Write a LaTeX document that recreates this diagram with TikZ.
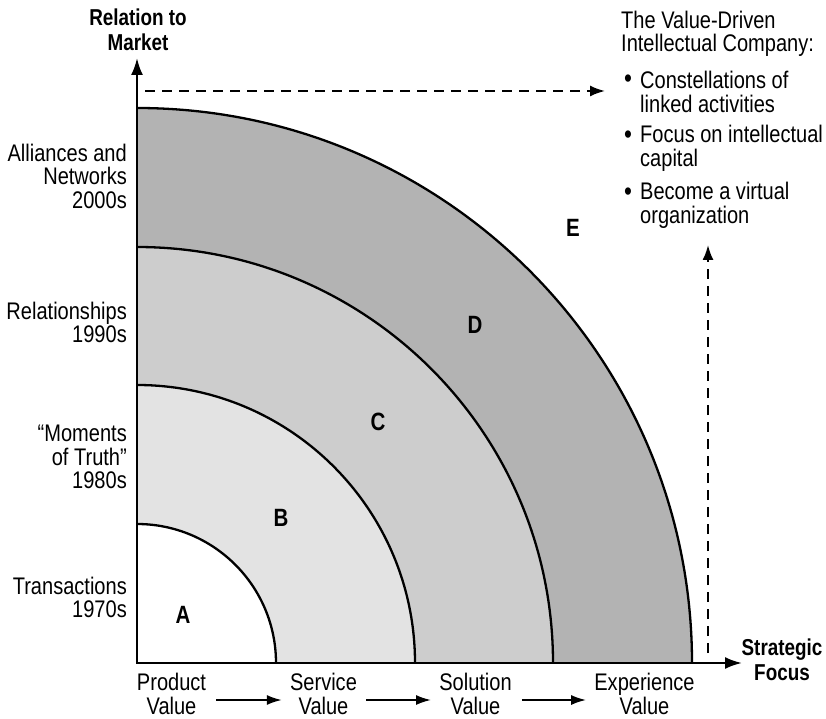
\documentclass[tikz,border=0pt]{standalone}
\usepackage{fontspec}
\setmainfont{Liberation Sans}[FakeStretch=0.835,BoldFeatures={FakeStretch=0.82}]
\usetikzlibrary{arrows.meta}
\definecolor{ringB}{HTML}{E3E3E3}
\definecolor{ringC}{HTML}{CDCDCD}
\definecolor{ringD}{HTML}{B3B3B3}
\begin{document}
\begin{tikzpicture}[x=1pt,y=1pt,
  lbl/.style={font=\fontsize{24}{23.5}\selectfont, inner sep=0pt, align=center},
  axlbl/.style={font=\fontsize{23}{24.5}\selectfont\bfseries, inner sep=0pt, align=center},
  letter/.style={font=\fontsize{25}{25}\selectfont\bfseries, inner sep=0pt},
  bullet/.style={font=\fontsize{27}{27}\selectfont, inner sep=0pt},
  ring/.style={line width=2.3pt},
  axis/.style={line width=2.4pt, {Latex[length=17pt,width=12pt]}-{Latex[length=17pt,width=12pt]}},
  flow/.style={line width=2pt, -{Latex[length=15pt,width=10pt]}},
  dasharrow/.style={line width=2pt, dash pattern=on 10pt off 7pt, -{Latex[length=15pt,width=11pt]}}]
\useasboundingbox (0,0) rectangle (826,718);
\coordinate (O) at (137,55);

% concentric quarter rings, outermost first
\fill[ringD] (O) -- (692,55) arc[start angle=0,end angle=90,radius=555] -- cycle;
\fill[ringC] (O) -- (553,55) arc[start angle=0,end angle=90,radius=416] -- cycle;
\fill[ringB] (O) -- (415,55) arc[start angle=0,end angle=90,radius=278] -- cycle;
\fill[white] (O) -- (276,55) arc[start angle=0,end angle=90,radius=139] -- cycle;
\foreach \r in {139,278,416,555}
  \draw[ring] (137+\r,55) arc[start angle=0,end angle=90,radius=\r];

% axes
\coordinate (ytip) at (137,660);
\coordinate (xtip) at (742,55);
\draw[axis] (ytip) -- (O) -- (xtip);

% dashed arrows towards the value-driven company
\coordinate (hstart) at (145,627);
\coordinate (hend) at (605,627);
\draw[dasharrow] (hstart) -- (hend);
\coordinate (vstart) at (708,65);
\coordinate (vend) at (708,473);
\draw[dasharrow] (vstart) -- (vend);

% axis titles
\node[axlbl] (relmkt) at (138,688) {Relation to\\Market};
\node[axlbl] (strat) at (782,58) {Strategic\\Focus};

% eras along the vertical axis
\node[lbl, anchor=east, align=right] (alli) at (127,542) {Alliances and\\Networks\\2000s};
\node[lbl, anchor=east, align=right] (rel) at (127,395.5) {Relationships\\1990s};
\node[lbl, anchor=east, align=right] (mom) at (127,261) {“Moments\\of Truth”\\1980s};
\node[lbl, anchor=east, align=right] (trans) at (127,120.5) {Transactions\\1970s};

% value stages along the horizontal axis
\node[lbl] (prod) at (171.5,24) {Product\\Value};
\node[lbl] (serv) at (323.5,24) {Service\\Value};
\node[lbl] (sol) at (475.5,24) {Solution\\Value};
\node[lbl] (exper) at (644.5,24) {Experience\\Value};
\draw[flow, shorten <=10pt, shorten >=8pt] ([yshift=-6pt]prod.east) -- ([yshift=-6pt]serv.west);
\draw[flow, shorten <=9pt, shorten >=8pt] ([yshift=-6pt]serv.east) -- ([yshift=-6pt]sol.west);
\draw[flow, shorten <=10pt, shorten >=8pt] ([yshift=-6pt]sol.east) -- ([yshift=-6pt]exper.west);

% region letters
\node[letter] (A) at (183,103) {A};
\node[letter] (B) at (281,200) {B};
\node[letter] (C) at (378,296) {C};
\node[letter] (D) at (475,393) {D};
\node[letter] (E) at (573,490) {E};

% the value-driven intellectual company
\node[lbl, anchor=west, align=left] (title) at (621,684) {The Value-Driven\\Intellectual Company:};
\node[lbl, anchor=west, align=left] (item1) at (640,626) {Constellations of\\linked activities};
\node[lbl, anchor=west, align=left] (item2) at (640,569.5) {Focus on intellectual\\capital};
\node[lbl, anchor=west, align=left] (item3) at (640,512.5) {Become a virtual\\organization};
\node[bullet] (dot1) at (628,637) {•};
\node[bullet] (dot2) at (628,580.5) {•};
\node[bullet] (dot3) at (628,523.5) {•};
\end{tikzpicture}
\end{document}
